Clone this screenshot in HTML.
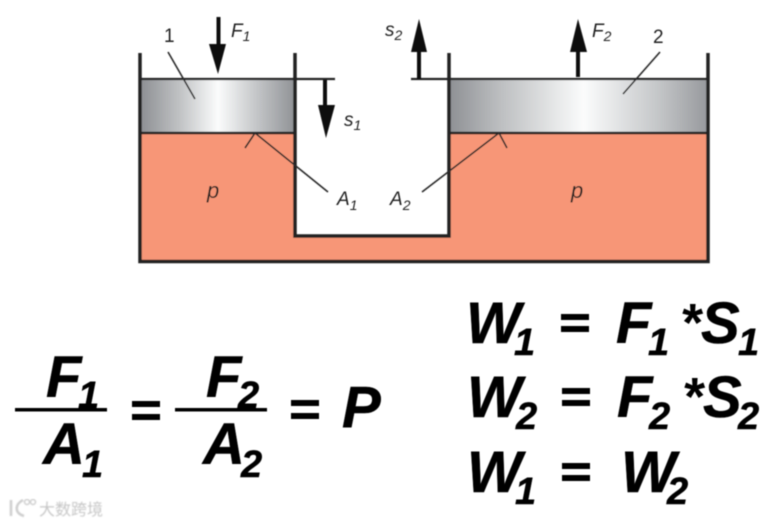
<!DOCTYPE html>
<html><head><meta charset="utf-8"><style>
html,body{margin:0;padding:0;background:#fff;width:784px;height:524px;overflow:hidden}
svg{display:block}
.b{font-family:"Liberation Sans",sans-serif;font-weight:bold;font-style:italic;font-size:58px;fill:#000;stroke:#000;stroke-width:.5px}
.s{font-family:"Liberation Sans",sans-serif;font-weight:bold;font-style:italic;font-size:38px;fill:#000;stroke:#000;stroke-width:.5px}
.e{font-family:"Liberation Sans",sans-serif;font-weight:bold;font-style:italic;font-size:54px;fill:#000}
.l{font-family:"Liberation Sans",sans-serif;font-size:19px;fill:#222}
.i{font-style:italic}
.m{font-family:"Liberation Sans",sans-serif;font-size:14px;fill:#222}
</style></head><body>
<svg width="784" height="524" viewBox="0 0 784 524" xmlns="http://www.w3.org/2000/svg">
<defs>
<linearGradient id="g1" x1="0" x2="1" y1="0" y2="0">
<stop offset="0" stop-color="#8e9094"/><stop offset=".25" stop-color="#c0c2c4"/><stop offset=".5" stop-color="#fbfcfc"/><stop offset=".75" stop-color="#c4c6c8"/><stop offset="1" stop-color="#909296"/>
</linearGradient>
<linearGradient id="g2" x1="0" x2="1" y1="0" y2="0">
<stop offset="0" stop-color="#8e9094"/><stop offset=".2" stop-color="#bdbfc1"/><stop offset=".52" stop-color="#fbfcfc"/><stop offset=".8" stop-color="#c6c8ca"/><stop offset="1" stop-color="#97999d"/>
</linearGradient>
<filter id="bl" x="-5%" y="-5%" width="110%" height="110%"><feGaussianBlur stdDeviation=".6"/></filter>
<filter id="bt" x="-5%" y="-5%" width="110%" height="110%"><feGaussianBlur stdDeviation=".4"/></filter>
<filter id="bw" x="-5%" y="-5%" width="110%" height="110%"><feGaussianBlur stdDeviation=".7"/></filter>
</defs>

<g filter="url(#bl)">
<path d="M140 133H295V236H449V133H708V261H140Z" fill="#f79677"/>
<rect x="141" y="79" width="154" height="54" fill="url(#g1)"/>
<rect x="449" y="79" width="259" height="54" fill="url(#g2)"/>
<g fill="none" stroke="#222224">
<path d="M140 53V261.500H708V53" stroke-width="3.500"/>
<path d="M295 53V236H449V53" stroke-width="3.500"/>
<path d="M141 79H335M411 79H708" stroke-width="2.200"/>
<path d="M141 133H295M449 133H708" stroke-width="2.500"/>
</g>
<g stroke="#2a2a2a" stroke-width="1.600" fill="none">
<path d="M168 52L195 99"/>
<path d="M255 133L328 192M255 133L245 148"/>
<path d="M499 133L422 192M499 133L507 148"/>
<path d="M660 52L623 94"/>
</g>
<g fill="#0c0c0c">
<rect x="216.500" y="17" width="4" height="30"/><path d="M209 44H226L218 74Z"/>
<rect x="323" y="80" width="4" height="28"/><path d="M318 105H335L326 138Z"/>
<rect x="417" y="50" width="4" height="29"/><path d="M411 52H427L419 19Z"/>
<rect x="576" y="50" width="4" height="27"/><path d="M570 52H587L578 19Z"/>
</g>
<text class="l" x="164" y="42">1</text>
<text class="l" x="653" y="43">2</text>
<text class="l i" x="231" y="37">F<tspan class="m" dy="4">1</tspan></text>
<text class="l i" x="592" y="37">F<tspan class="m" dy="4">2</tspan></text>
<text class="l i" x="344" y="126">s<tspan class="m" dy="4">1</tspan></text>
<text class="l i" x="385" y="36">s<tspan class="m" dy="4">2</tspan></text>
<text class="l i" x="337" y="205">A<tspan class="m" dy="5">1</tspan></text>
<text class="l i" x="390" y="205">A<tspan class="m" dy="5">2</tspan></text>
<text class="l i" x="207" y="198" style="font-size:22px">p</text>
<text class="l i" x="571" y="198" style="font-size:22px">p</text>
</g>

<g filter="url(#bt)">
<text class="b" x="46" y="397">F</text><text class="s" x="78" y="408">1</text>
<rect x="15" y="408" width="92" height="3.500"/>
<text class="b" x="43" y="464">A</text><text class="s" x="82" y="477">1</text>
<rect x="132" y="401" width="28" height="6"/><rect x="132" y="414" width="28" height="6"/>
<text class="b" x="206" y="397">F</text><text class="s" x="238" y="408">2</text>
<rect x="175" y="408" width="92" height="3.500"/>
<text class="b" x="203" y="464">A</text><text class="s" x="241" y="477">2</text>
<rect x="291" y="400" width="28" height="6"/><rect x="291" y="413" width="28" height="6"/>
<text class="b" x="342" y="427">P</text>

<text class="b" x="466" y="343">W</text><text class="s" x="514" y="355">1</text>
<rect x="561" y="314" width="28" height="6"/><rect x="561" y="326" width="28" height="6"/>
<text class="b" x="616" y="343">F</text><text class="s" x="648" y="355">1</text>
<text class="e" x="680" y="341">*</text>
<text class="b" x="701" y="343">S</text><text class="s" x="738" y="355">1</text>

<text class="b" x="467" y="417">W</text><text class="s" x="516" y="429">2</text>
<rect x="562" y="388" width="28" height="6"/><rect x="562" y="400" width="28" height="6"/>
<text class="b" x="617" y="417">F</text><text class="s" x="649" y="429">2</text>
<text class="e" x="682" y="415">*</text>
<text class="b" x="703" y="417">S</text><text class="s" x="738" y="429">2</text>

<text class="b" x="467" y="492">W</text><text class="s" x="515" y="504">1</text>
<rect x="562" y="463" width="28" height="6"/><rect x="562" y="475" width="28" height="6"/>
<text class="b" x="621" y="492">W</text><text class="s" x="667" y="504">2</text>
</g>

<g filter="url(#bw)" fill="none" stroke="#cfcfcf" stroke-width="2.500">
<path d="M11 500V516M23 500C15 504 14 513 24 516"/>
<g stroke-width="1.500"><circle cx="27" cy="502" r="2.500"/><circle cx="33" cy="502" r="2.500"/></g>
<text x="39" y="515" fill="#c6c6c6" stroke="none" font-size="16" font-family="'Liberation Sans','Noto Sans CJK SC',sans-serif">大数跨境</text>
</g>
</svg>
</body></html>
